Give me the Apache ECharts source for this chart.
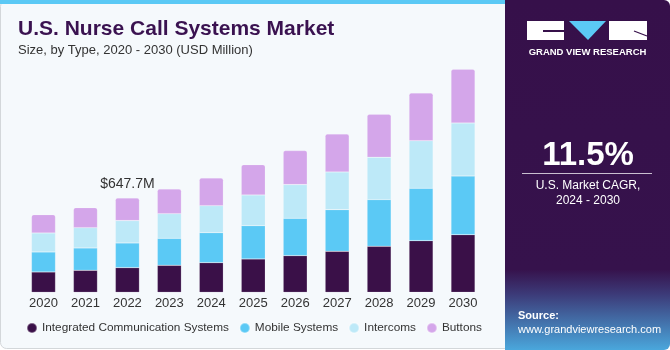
<!DOCTYPE html>
<html>
<head>
<meta charset="utf-8">
<script src="https://cdn.jsdelivr.net/npm/echarts@6/dist/echarts.min.js"></script>
<style>
html,body{margin:0;padding:0;background:#fff;}
#chart{width:670px;height:350px;}
</style>
</head>
<body>
<div id="chart"></div>
<script>
var years = ['2020','2021','2022','2023','2024','2025','2026','2027','2028','2029','2030'];
var integrated = [139.6, 151.1, 169.4, 185.4, 203.7, 228.9, 251.8, 281.5, 315.9, 354.8, 396.0];
var mobile     = [137.3, 153.4, 169.4, 185.4, 206.0, 228.9, 256.4, 286.1, 320.5, 359.4, 402.9];
var intercoms  = [130.5, 139.6, 153.4, 169.4, 185.4, 210.6, 231.2, 258.7, 290.7, 327.3, 364.0];
var buttons    = [125.9, 137.3, 155.6, 169.4, 190.0, 208.3, 233.5, 261.0, 295.3, 327.3, 368.5];
var seriesNames = ['Integrated Communication Systems', 'Mobile Systems', 'Intercoms', 'Buttons'];
var colors = ['#3a1048', '#5bc9f5', '#bde9f8', '#d4a6ea'];
var calloutIndex = 2;
var calloutText = '$647.7M';

var chart = echarts.init(document.getElementById('chart'));

function makeSeries(name, data, i){
	var s = {
		name : name,
		type : 'bar',
		stack : 'total',
		data : data,
		barWidth : 24,
		itemStyle : {
			color : colors[i],
			borderColor : 'rgba(255,255,255,0.35)',
			borderWidth : 0.5
		}
	};
	if(i == 3){
		s.itemStyle.borderRadius = [2, 2, 0, 0];
		// label only over the 2022 bar
		s.label = {
			show : true,
			position : 'top',
			distance : 7,
			color : '#333',
			fontSize : 14,
			fontFamily : 'Liberation Sans',
			formatter : function(p){
				return p.dataIndex == calloutIndex ? calloutText : '';
			}
		};
	}
	return s;
}

var option = {
	animation : false,
	backgroundColor : '#ffffff',
	textStyle : { fontFamily : 'Liberation Sans' },
	graphic : [
		// left panel
		{ type : 'rect', shape : { x : 0.5, y : 0.5, width : 520, height : 348, r : 6 },
		  style : { fill : '#f5f9fc', stroke : '#d3d7da', lineWidth : 1 }, z : -10 },
		{ type : 'rect', shape : { x : 0, y : 0, width : 510, height : 4 },
		  style : { fill : '#5bc9f5' }, z : -9 },
		// right panel
		{ type : 'rect', shape : { x : 505, y : 0, width : 165, height : 350, r : [0, 6, 6, 0] },
		  style : { fill : new echarts.graphic.LinearGradient(0, 0, 0, 1, [
				{ offset : 0, color : '#36104a' },
				{ offset : 0.77, color : '#36124c' },
				{ offset : 0.84, color : '#3c3a78' },
				{ offset : 1, color : '#4aa7dc' }
			]) }, z : -8 },
		// logo
		{ type : 'rect', shape : { x : 527, y : 21, width : 37, height : 19 }, style : { fill : '#ffffff' } },
		{ type : 'rect', shape : { x : 543, y : 30, width : 21, height : 2 }, style : { fill : '#36104a' } },
		{ type : 'polygon', shape : { points : [[569, 21], [606, 21], [588, 40]] }, style : { fill : '#5bc9f5' } },
		{ type : 'rect', shape : { x : 609, y : 21, width : 38, height : 19 }, style : { fill : '#ffffff' } },
		{ type : 'line', shape : { x1 : 634, y1 : 31, x2 : 647, y2 : 36 }, style : { stroke : '#36104a', lineWidth : 1.2 } },
		{ type : 'text', x : 587.5, y : 52, style : { text : 'GRAND VIEW RESEARCH', fill : '#ffffff',
			font : 'bold 9.5px Liberation Sans', align : 'center', verticalAlign : 'middle' } },
		// CAGR
		{ type : 'text', x : 588, y : 156, style : { text : '11.5%', fill : '#ffffff',
			font : 'bold 33px Liberation Sans', align : 'center', verticalAlign : 'middle' } },
		{ type : 'line', shape : { x1 : 522, y1 : 173.5, x2 : 652, y2 : 173.5 }, style : { stroke : '#c9bfd0', lineWidth : 1 } },
		{ type : 'text', x : 588, y : 186, style : { text : 'U.S. Market CAGR,', fill : '#ffffff',
			font : '12px Liberation Sans', align : 'center', verticalAlign : 'middle' } },
		{ type : 'text', x : 588, y : 201, style : { text : '2024 - 2030', fill : '#ffffff',
			font : '12px Liberation Sans', align : 'center', verticalAlign : 'middle' } },
		// source
		{ type : 'text', x : 518, y : 316, style : { text : 'Source:', fill : '#ffffff',
			font : 'bold 11px Liberation Sans', verticalAlign : 'middle' } },
		{ type : 'text', x : 518, y : 330, style : { text : 'www.grandviewresearch.com', fill : '#ffffff',
			font : '11px Liberation Sans', verticalAlign : 'middle' } }
	],
	title : {
		text : 'U.S. Nurse Call Systems Market',
		subtext : 'Size, by Type, 2020 - 2030 (USD Million)',
		left : 13,
		top : 14,
		itemGap : 4,
		textStyle : { color : '#3a1250', fontSize : 21, fontWeight : 'bold', fontFamily : 'Liberation Sans' },
		subtextStyle : { color : '#333333', fontSize : 13, fontFamily : 'Liberation Sans' }
	},
	legend : {
		left : 21,
		top : 317,
		icon : 'circle',
		itemWidth : 10,
		itemHeight : 10,
		itemGap : 10,
		textStyle : { color : '#333', fontSize : 11.8 },
		data : seriesNames
	},
	grid : {
		left : 22.5,
		right : 186,
		top : 59.3,
		bottom : 57.7,
		containLabel : false
	},
	xAxis : {
		type : 'category',
		data : years,
		axisLine : { show : false },
		axisTick : { show : false },
		axisLabel : { color : '#333', fontSize : 13, margin : 5 }
	},
	yAxis : {
		type : 'value',
		min : 0,
		max : 1600,
		show : false,
		splitLine : { show : false }
	},
	series : [
		makeSeries(seriesNames[0], integrated, 0),
		makeSeries(seriesNames[1], mobile, 1),
		makeSeries(seriesNames[2], intercoms, 2),
		makeSeries(seriesNames[3], buttons, 3)
	]
};
chart.setOption(option);
</script>
</body>
</html>
